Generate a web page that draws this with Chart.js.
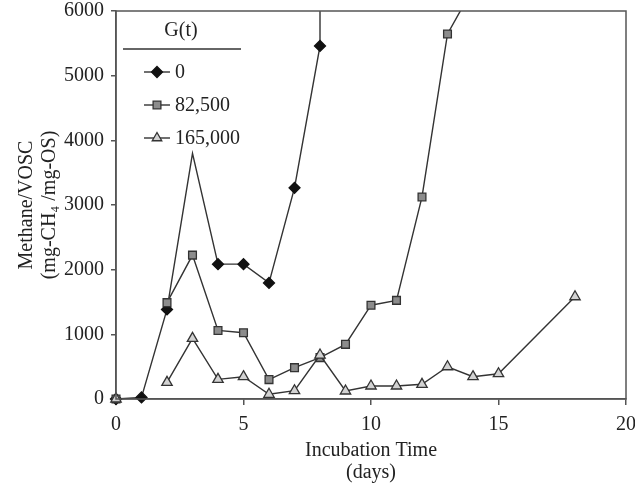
<!DOCTYPE html>
<html>
<head>
<meta charset="utf-8">
<script src="https://cdn.jsdelivr.net/npm/chart.js@4/dist/chart.umd.min.js"></script>
<style>
  html, body { margin: 0; padding: 0; background: #fff; }
  #wrap { width: 635px; height: 484px; }
</style>
</head>
<body>
<div id="wrap"><canvas id="chart" width="635" height="484"></canvas></div>
<script>
// values (days, mg-CH4/mg-OS)
const days0 = [0, 1, 2, 3, 4, 5, 6, 7, 8, 8];
const vals0 = [0, 25, 1385, 3800, 2085, 2085, 1795, 3265, 5460, 9000];

const days1 = [0, 1, 2, 3, 4, 5, 6, 7, 8, 9, 10, 11, 12, 13, 14];
const vals1 = [0, null, 1490, 2225, 1060, 1025, 300, 485, 640, 845, 1450, 1525, 3125, 5645, 6350];

const days2 = [0, 1, 2, 3, 4, 5, 6, 7, 8, 9, 10, 11, 12, 13, 14, 15, 18];
const vals2 = [0, null, 258, 938, 304, 345, 73, 128, 680, 124, 201, 201, 227, 499, 345, 391, 1581];

const seriesNames = ['0', '82,500', '165,000'];
const legendTitle = 'G(t)';
const xTicks = [0, 5, 10, 15, 20];
const yTicks = [0, 1000, 2000, 3000, 4000, 5000, 6000];

const serif = '"Liberation Serif", "Times New Roman", serif';
const ink = '#222';
const lineCol = '#333';

function pts(xs, ys) {
    return xs.map((x, i) => ({ x: x, y: ys[i] }));
}

// no marker drawn at the day-3 peak of the first series
const radius0 = days0.map(d => d === 3 ? 0 : 5.5);

const styles = [
    { shape: 'rectRot', fill: '#111', stroke: '#111' },
    { shape: 'rect', fill: '#8c8c8c', stroke: '#333' },
    { shape: 'triangle', fill: '#d2d2d2', stroke: '#333' }
];

function mark(ctx, shape, x, y, r, fill, stroke) {
    ctx.save();
    ctx.beginPath();
    if (shape === 'rectRot') {
        ctx.moveTo(x, y - r); ctx.lineTo(x + r, y); ctx.lineTo(x, y + r); ctx.lineTo(x - r, y);
    } else if (shape === 'rect') {
        const s = r * Math.SQRT1_2;
        ctx.rect(x - s, y - s, 2 * s, 2 * s);
    } else {
        const w = r * Math.sqrt(3) / 2;
        ctx.moveTo(x, y - r); ctx.lineTo(x + w, y + r / 2); ctx.lineTo(x - w, y + r / 2);
    }
    ctx.closePath();
    ctx.fillStyle = fill;
    ctx.fill();
    ctx.lineWidth = 1.3;
    ctx.strokeStyle = stroke;
    ctx.stroke();
    ctx.restore();
}

const frameAndLegend = {
    id: 'frameAndLegend',
    afterDatasetsDraw(chart) {
        const ctx = chart.ctx;
        const a = chart.chartArea;
        ctx.save();
        ctx.strokeStyle = '#555';
        ctx.lineWidth = 1.5;
        ctx.strokeRect(a.left, a.top, a.right - a.left, a.bottom - a.top);

        // legend block
        ctx.fillStyle = ink;
        ctx.font = '20px ' + serif;
        ctx.textBaseline = 'middle';
        ctx.textAlign = 'center';
        ctx.fillText(legendTitle, 181, 31);
        ctx.beginPath();
        ctx.moveTo(123, 49);
        ctx.lineTo(241, 49);
        ctx.strokeStyle = lineCol;
        ctx.lineWidth = 1.3;
        ctx.stroke();

        const rows = [72, 105, 138];
        ctx.textAlign = 'left';
        seriesNames.forEach((name, i) => {
            const y = rows[i];
            ctx.beginPath();
            ctx.moveTo(144, y);
            ctx.lineTo(170, y);
            ctx.strokeStyle = lineCol;
            ctx.lineWidth = 1.4;
            ctx.stroke();
            mark(ctx, styles[i].shape, 157, y, 5.5, styles[i].fill, styles[i].stroke);
            ctx.fillStyle = ink;
            ctx.fillText(name, 175, y + 1);
        });
        ctx.restore();
    }
};

const datasets = [
    { label: seriesNames[0], data: pts(days0, vals0), pointRadius: radius0 },
    { label: seriesNames[1], data: pts(days1, vals1), pointRadius: 5.5 },
    { label: seriesNames[2], data: pts(days2, vals2), pointRadius: 6 }
].map((d, i) => Object.assign(d, {
    borderColor: lineCol,
    borderWidth: 1.4,
    pointStyle: styles[i].shape,
    pointBackgroundColor: styles[i].fill,
    pointBorderColor: styles[i].stroke,
    pointBorderWidth: 1.3,
    tension: 0,
    clip: { left: 10, bottom: 10, top: 0, right: 0 }
}));

new Chart(document.getElementById('chart'), {
    type: 'line',
    data: { datasets: datasets.reverse() },
    options: {
        responsive: false,
        animation: false,
        layout: { padding: { top: 11, right: 9, left: 0, bottom: 0 } },
        plugins: { legend: { display: false }, tooltip: { enabled: false } },
        scales: {
            x: {
                type: 'linear',
                min: 0, max: 20,
                afterBuildTicks: s => { s.ticks = xTicks.map(v => ({ value: v })); },
                afterFit: s => { s.height = 85; s.paddingLeft = 0; s.paddingRight = 0; },
                grid: { display: true, drawOnChartArea: false, tickLength: 6, color: '#555', lineWidth: 1.5 },
                border: { color: '#555', width: 1.5 },
                ticks: { color: ink, padding: 9, font: { family: serif, size: 20, lineHeight: 1.12 }, maxRotation: 0 },
                title: {
                    display: true,
                    text: ['Incubation Time', '(days)'],
                    color: ink,
                    padding: { top: 0, bottom: 0 },
                    font: { family: serif, size: 20, lineHeight: 1.1 }
                }
            },
            y: {
                min: 0, max: 6000,
                afterBuildTicks: s => { s.ticks = yTicks.map(v => ({ value: v })); },
                afterFit: s => { s.width = 116; s.paddingTop = 0; s.paddingBottom = 0; },
                grid: { display: true, drawOnChartArea: false, tickLength: 5, color: '#555', lineWidth: 1.5 },
                border: { color: '#555', width: 1.5 },
                ticks: { color: ink, padding: 7, font: { family: serif, size: 20 }, callback: v => String(v) },
                title: {
                    display: true,
                    text: ['Methane/VOSC', '(mg-CH\u2084 /mg-OS)'],
                    color: ink,
                    padding: { top: 15, bottom: 0 },
                    font: { family: serif, size: 20, lineHeight: 1.15 }
                }
            }
        }
    },
    plugins: [frameAndLegend]
});
</script>
</body>
</html>
